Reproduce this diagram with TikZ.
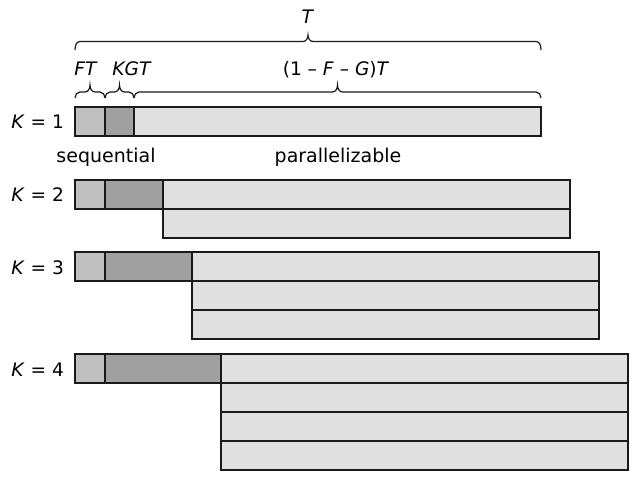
\documentclass[tikz,border=0pt]{standalone}
\usepackage{fontspec}
\setmainfont{DejaVu Sans}
\definecolor{fcol}{HTML}{C0C0C0}
\definecolor{gcol}{HTML}{A0A0A0}
\definecolor{pcol}{HTML}{E0E0E0}
\definecolor{edge}{HTML}{1A1A1A}
\newcommand{\mybrace}[6]{%
  \pgfmathsetmacro{\bmid}{0.5*#1+0.5*#2}%
  \draw[bracestyle] (#1,#3) to[out=90,in=180] ({#1+#6},#4)
    -- ({\bmid-#6},#4) to[out=0,in=270] (\bmid,#5)
    to[out=270,in=180] ({\bmid+#6},#4)
    -- ({#2-#6},#4) to[out=0,in=90] (#2,#3);}
\begin{document}
\begin{tikzpicture}[x=1pt,y=-1pt,
  bar/.style={draw=edge, line width=1.2pt, inner sep=0pt, outer sep=0pt,
    minimum height=29pt, anchor=north west},
  fseg/.style={bar, fill=fcol, minimum width=30pt},
  gseg/.style={bar, fill=gcol},
  pseg/.style={bar, fill=pcol, minimum width=407pt},
  bracestyle/.style={draw=edge, line width=1.2pt},
  lbl/.style={font=\fontsize{18.6}{22}\selectfont, inner sep=0pt, outer sep=0pt},
  big/.style={font=\fontsize{19}{22}\selectfont, inner sep=0pt, outer sep=0pt}]
\useasboundingbox (0,0) rectangle (634,477);

% K = 1
\node[fseg] (f1) at (75,107) {};
\node[gseg, minimum width=29pt] (g1) at (f1.north east) {};
\node[pseg] (p1a) at (g1.north east) {};
% K = 2
\node[fseg] (f2) at (75,180) {};
\node[gseg, minimum width=58pt] (g2) at (f2.north east) {};
\node[pseg] (p2a) at (g2.north east) {};
\node[pseg] (p2b) at (p2a.south west) {};
% K = 3
\node[fseg] (f3) at (75,252) {};
\node[gseg, minimum width=87pt] (g3) at (f3.north east) {};
\node[pseg] (p3a) at (g3.north east) {};
\node[pseg] (p3b) at (p3a.south west) {};
\node[pseg] (p3c) at (p3b.south west) {};
% K = 4
\node[fseg] (f4) at (75,354) {};
\node[gseg, minimum width=116pt] (g4) at (f4.north east) {};
\node[pseg] (p4a) at (g4.north east) {};
\node[pseg] (p4b) at (p4a.south west) {};
\node[pseg] (p4c) at (p4b.south west) {};
\node[pseg] (p4d) at (p4c.south west) {};

% K labels
\node[lbl, anchor=base east] (k1) at (64,128.5) {\textit{K} = 1};
\node[lbl, anchor=base east] (k2) at (64,201.5) {\textit{K} = 2};
\node[lbl, anchor=base east] (k3) at (64,274) {\textit{K} = 3};
\node[lbl, anchor=base east] (k4) at (64,376) {\textit{K} = 4};

% braces
\mybrace{75}{541}{50}{41.5}{35}{5}
\mybrace{75}{105}{98}{92}{85}{5}
\mybrace{105}{134}{98}{92}{85}{5}
\mybrace{134}{541}{98}{92}{85}{5}

% brace labels
\node[lbl, anchor=base] (tT) at (308,23) {\textit{T}};
\node[lbl, anchor=base] (tF) at (86,75) {\textit{FT}};
\node[lbl, anchor=base] (tG) at (132,75) {\textit{KGT}};
\node[lbl, anchor=base] (tP) at (336,75) {(1 – \textit{F} – \textit{G})\textit{T}};

% part labels
\node[big, anchor=base] (seq) at (106,162) {sequential};
\node[big, anchor=base] (par) at (338,162) {parallelizable};
\end{tikzpicture}
\end{document}
